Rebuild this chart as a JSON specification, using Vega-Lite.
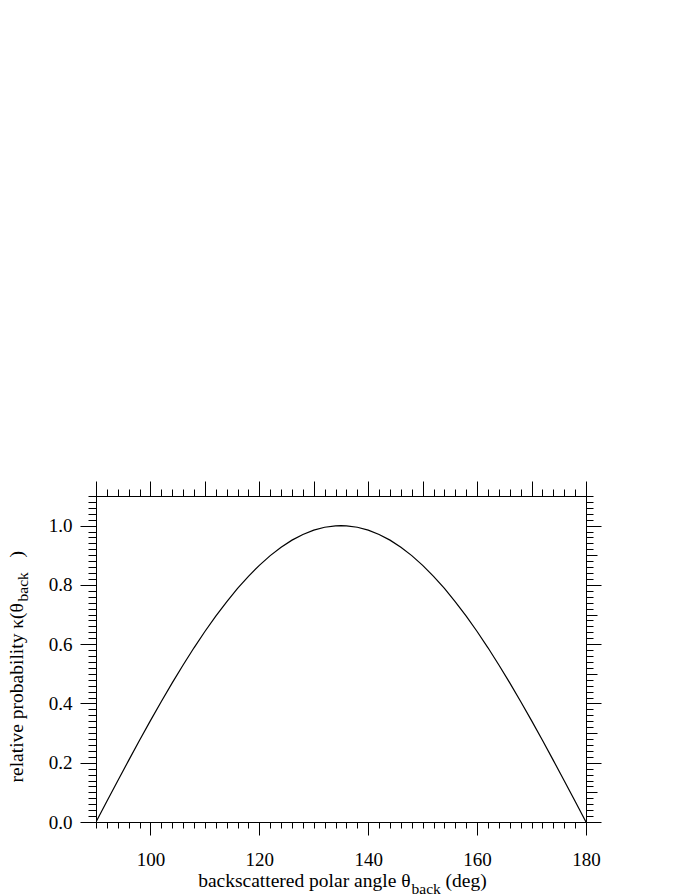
{
  "$schema": "https://vega.github.io/schema/vega-lite/v6.json",
  "width": 490,
  "height": 326,
  "autosize": "none",
  "padding": {"left": 96, "top": 496, "right": 106, "bottom": 74},
  "background": "white",
  "config": {
    "view": {"stroke": null},
    "axis": {
      "labelFont": "Liberation Serif",
      "titleFont": "Liberation Serif",
      "labelColor": "black",
      "titleColor": "black",
      "tickColor": "black",
      "domainColor": "black",
      "tickWidth": 1,
      "domainWidth": 1,
      "grid": false,
      "labelFontSize": 19,
      "titleFontSize": 19.5,
      "titleFontWeight": "normal",
      "labelFlush": false
    }
  },
  "data": {
    "values": [
      {"theta": 90, "kappa": 0},
      {"theta": 92, "kappa": 0.0698},
      {"theta": 94, "kappa": 0.1392},
      {"theta": 96, "kappa": 0.2079},
      {"theta": 98, "kappa": 0.2756},
      {"theta": 100, "kappa": 0.342},
      {"theta": 102, "kappa": 0.4067},
      {"theta": 104, "kappa": 0.4695},
      {"theta": 106, "kappa": 0.5299},
      {"theta": 108, "kappa": 0.5878},
      {"theta": 110, "kappa": 0.6428},
      {"theta": 112, "kappa": 0.6947},
      {"theta": 114, "kappa": 0.7431},
      {"theta": 116, "kappa": 0.788},
      {"theta": 118, "kappa": 0.829},
      {"theta": 120, "kappa": 0.866},
      {"theta": 122, "kappa": 0.8988},
      {"theta": 124, "kappa": 0.9272},
      {"theta": 126, "kappa": 0.9511},
      {"theta": 128, "kappa": 0.9703},
      {"theta": 130, "kappa": 0.9848},
      {"theta": 132, "kappa": 0.9945},
      {"theta": 134, "kappa": 0.9994},
      {"theta": 135, "kappa": 1.0},
      {"theta": 136, "kappa": 0.9994},
      {"theta": 138, "kappa": 0.9945},
      {"theta": 140, "kappa": 0.9848},
      {"theta": 142, "kappa": 0.9703},
      {"theta": 144, "kappa": 0.9511},
      {"theta": 146, "kappa": 0.9272},
      {"theta": 148, "kappa": 0.8988},
      {"theta": 150, "kappa": 0.866},
      {"theta": 152, "kappa": 0.829},
      {"theta": 154, "kappa": 0.788},
      {"theta": 156, "kappa": 0.7431},
      {"theta": 158, "kappa": 0.6947},
      {"theta": 160, "kappa": 0.6428},
      {"theta": 162, "kappa": 0.5878},
      {"theta": 164, "kappa": 0.5299},
      {"theta": 166, "kappa": 0.4695},
      {"theta": 168, "kappa": 0.4067},
      {"theta": 170, "kappa": 0.342},
      {"theta": 172, "kappa": 0.2756},
      {"theta": 174, "kappa": 0.2079},
      {"theta": 176, "kappa": 0.1392},
      {"theta": 178, "kappa": 0.0698},
      {"theta": 180, "kappa": 0}
    ]
  },
  "resolve": {"axis": {"x": "independent", "y": "independent"}},
  "layer": [
    {
      "mark": {"type": "line", "color": "black", "strokeWidth": 1.2, "clip": true},
      "encoding": {
        "x": {
          "field": "theta", "type": "quantitative",
          "scale": {"domain": [90, 180], "nice": false, "zero": false},
          "axis": {
            "orient": "bottom",
            "values": [100, 120, 140, 160, 180],
            "tickSize": 13,
            "labelBaseline": "alphabetic",
            "labelPadding": 30,
            "domain": true,
            "title": "backscattered polar angle θ",
            "titleX": 314,
            "titleY": 64,
            "titleAlign": "right",
            "titleBaseline": "alphabetic",
            "titleAngle": 0
          }
        },
        "y": {
          "field": "kappa", "type": "quantitative",
          "scale": {"domain": [0, 1.1], "nice": false, "zero": false},
          "axis": {
            "orient": "left",
            "values": [0, 0.2, 0.4, 0.6, 0.8, 1.0],
            "format": ".1f",
            "tickSize": 16,
            "labelPadding": 8,
            "labelBaseline": "middle",
            "domain": true,
            "title": "relative probability κ(θ",
            "titleX": -74,
            "titleY": 286,
            "titleAngle": 270,
            "titleAlign": "left",
            "titleBaseline": "alphabetic"
          }
        }
      }
    },
    {
      "mark": {"type": "line", "opacity": 0},
      "encoding": {
        "x": {
          "field": "theta", "type": "quantitative",
          "scale": {"domain": [90, 180], "nice": false, "zero": false},
          "axis": {
            "orient": "bottom",
            "values": [90, 92, 94, 96, 98, 100, 102, 104, 106, 108, 110, 112, 114, 116, 118, 120, 122, 124, 126, 128, 130, 132, 134, 136, 138, 140, 142, 144, 146, 148, 150, 152, 154, 156, 158, 160, 162, 164, 166, 168, 170, 172, 174, 176, 178, 180],
            "tickSize": 6,
            "labels": false,
            "domain": false,
            "title": "back",
            "titleFontSize": 15.5,
            "titleX": 315,
            "titleY": 71,
            "titleAlign": "left",
            "titleBaseline": "alphabetic",
            "titleAngle": 0
          }
        },
        "y": {
          "field": "kappa", "type": "quantitative",
          "scale": {"domain": [0, 1.1], "nice": false, "zero": false},
          "axis": {
            "orient": "left",
            "values": [0, 0.02, 0.04, 0.06, 0.08, 0.1, 0.12, 0.14, 0.16, 0.18, 0.2, 0.22, 0.24, 0.26, 0.28, 0.3, 0.32, 0.34, 0.36, 0.38, 0.4, 0.42, 0.44, 0.46, 0.48, 0.5, 0.52, 0.54, 0.56, 0.58, 0.6, 0.62, 0.64, 0.66, 0.68, 0.7, 0.72, 0.74, 0.76, 0.78, 0.8, 0.82, 0.84, 0.86, 0.88, 0.9, 0.92, 0.94, 0.96, 0.98, 1.0, 1.02, 1.04, 1.06, 1.08, 1.1],
            "tickSize": 8,
            "labels": false,
            "domain": false,
            "title": "back",
            "titleFontSize": 15.5,
            "titleX": -69,
            "titleY": 105,
            "titleAngle": 270,
            "titleAlign": "left",
            "titleBaseline": "alphabetic"
          }
        }
      }
    },
    {
      "mark": {"type": "line", "opacity": 0},
      "encoding": {
        "x": {
          "field": "theta", "type": "quantitative",
          "scale": {"domain": [90, 180], "nice": false, "zero": false},
          "axis": {
            "orient": "top",
            "values": [90, 100, 110, 120, 130, 140, 150, 160, 170, 180],
            "tickSize": 15,
            "labels": false,
            "domain": true,
            "title": "(deg)",
            "titleX": 349,
            "titleY": 390,
            "titleAlign": "left",
            "titleBaseline": "alphabetic",
            "titleAngle": 0
          }
        },
        "y": {
          "field": "kappa", "type": "quantitative",
          "scale": {"domain": [0, 1.1], "nice": false, "zero": false},
          "axis": {
            "orient": "right",
            "values": [0, 0.2, 0.4, 0.6, 0.8, 1.0],
            "tickSize": 15,
            "labels": false,
            "domain": true,
            "title": ")",
            "titleX": -564,
            "titleY": 61,
            "titleAngle": 270,
            "titleAlign": "left",
            "titleBaseline": "alphabetic"
          }
        }
      }
    },
    {
      "mark": {"type": "line", "opacity": 0},
      "encoding": {
        "x": {
          "field": "theta", "type": "quantitative",
          "scale": {"domain": [90, 180], "nice": false, "zero": false},
          "axis": {
            "orient": "top",
            "values": [90, 92, 94, 96, 98, 100, 102, 104, 106, 108, 110, 112, 114, 116, 118, 120, 122, 124, 126, 128, 130, 132, 134, 136, 138, 140, 142, 144, 146, 148, 150, 152, 154, 156, 158, 160, 162, 164, 166, 168, 170, 172, 174, 176, 178, 180],
            "tickSize": 7,
            "labels": false,
            "domain": false,
            "title": null
          }
        },
        "y": {
          "field": "kappa", "type": "quantitative",
          "scale": {"domain": [0, 1.1], "nice": false, "zero": false},
          "axis": {
            "orient": "right",
            "values": [0.1, 0.3, 0.5, 0.7, 0.9],
            "tickSize": 11,
            "labels": false,
            "domain": false,
            "title": null
          }
        }
      }
    },
    {
      "mark": {"type": "line", "opacity": 0},
      "encoding": {
        "x": {
          "field": "theta", "type": "quantitative",
          "scale": {"domain": [90, 180], "nice": false, "zero": false},
          "axis": null
        },
        "y": {
          "field": "kappa", "type": "quantitative",
          "scale": {"domain": [0, 1.1], "nice": false, "zero": false},
          "axis": {
            "orient": "right",
            "values": [0, 0.02, 0.04, 0.06, 0.08, 0.1, 0.12, 0.14, 0.16, 0.18, 0.2, 0.22, 0.24, 0.26, 0.28, 0.3, 0.32, 0.34, 0.36, 0.38, 0.4, 0.42, 0.44, 0.46, 0.48, 0.5, 0.52, 0.54, 0.56, 0.58, 0.6, 0.62, 0.64, 0.66, 0.68, 0.7, 0.72, 0.74, 0.76, 0.78, 0.8, 0.82, 0.84, 0.86, 0.88, 0.9, 0.92, 0.94, 0.96, 0.98, 1.0, 1.02, 1.04, 1.06, 1.08, 1.1],
            "tickSize": 7,
            "labels": false,
            "domain": false,
            "title": null
          }
        }
      }
    }
  ]
}
